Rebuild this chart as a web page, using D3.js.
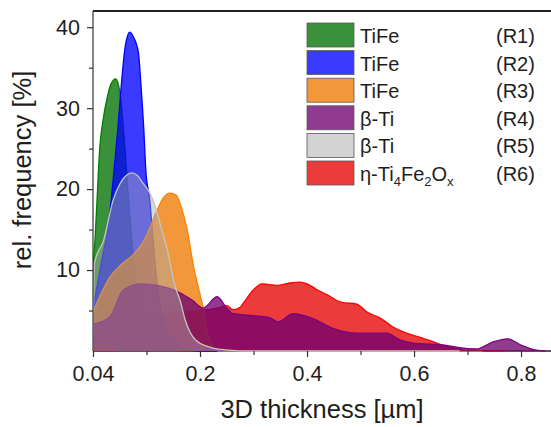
<!DOCTYPE html>
<html>
<head>
<meta charset="utf-8">
<script src="https://cdn.jsdelivr.net/npm/d3@7"></script>
<style>
	html, body { margin: 0; padding: 0; background: #fff; overflow: hidden; }
	svg { display: block; }
	text { font-family: "Liberation Sans", Arial, sans-serif; fill: #1e1e1e; }
</style>
</head>
<body>
<svg id="chart" width="551" height="427"></svg>
<script>

/* data: thickness [µm] vs rel. frequency [%] */
var regions = ["R1", "R2", "R3", "R4", "R5", "R6"];
var phases = ["TiFe", "TiFe", "TiFe", "β-Ti", "β-Ti", "η-Ti4Fe2Ox"];

var thickR1 = [0.040,0.043,0.046,0.050,0.055,0.061,0.067,0.074,0.080,0.086,0.092,0.100,0.110,0.120,0.135,0.160,0.175,0.196];
var freqR1  = [10.6,13.7,18.6,25.0,28.5,31.2,33.0,33.6,32.0,27.0,20.0,12.0,6.0,2.5,0.8,0.2,0,0];

var thickR2 = [0.040,0.046,0.055,0.062,0.070,0.077,0.083,0.088,0.095,0.101,0.108,0.112,0.116,0.119,0.125,0.130,0.135,0.142,0.150,0.165,0.180,0.196,0.247];
var freqR2  = [5.1,8.0,12.0,14.9,21.0,27.3,33.5,37.5,39.4,38.7,36.8,32.5,27.3,22.3,18.6,13.5,9.0,5.0,2.8,1.0,0.3,0,0];

var thickR3 = [0.040,0.050,0.065,0.080,0.100,0.115,0.125,0.136,0.145,0.155,0.164,0.173,0.181,0.190,0.200,0.206,0.215,0.225,0.234,0.728];
var freqR3  = [4.8,6.7,9.1,10.5,11.9,13.5,15.2,17.4,18.9,19.5,19.3,17.5,14.9,10.6,7.0,5.3,2.0,0.5,0,0];

var thickR4 = [0.040,0.065,0.085,0.110,0.136,0.155,0.170,0.188,0.206,0.232,0.250,0.262,0.293,0.331,0.346,0.374,0.411,0.448,0.493,0.549,0.573,0.597,0.660,0.685,0.716,0.747,0.775,0.801,0.829,0.845];
var freqR4  = [3.3,4.2,7.5,8.3,8.1,7.7,7.2,6.3,5.3,6.7,5.3,4.6,4.4,4.1,3.6,4.6,4.0,2.8,2.2,2.2,1.4,1.0,0.7,0.4,0.25,1.1,1.5,0.7,0.1,0];

var thickR5 = [0.040,0.042,0.056,0.070,0.080,0.090,0.098,0.106,0.115,0.123,0.130,0.143,0.151,0.163,0.170,0.178,0.193,0.222,0.247,0.300,0.685];
var freqR5  = [0,10.8,13.7,18.6,20.6,21.7,22.0,21.7,20.7,19.8,18.6,14.9,12.5,7.9,6.3,3.8,1.4,0.4,0.15,0,0];

var thickR6 = [0.040,0.070,0.080,0.100,0.130,0.160,0.200,0.232,0.250,0.262,0.275,0.282,0.299,0.316,0.344,0.368,0.387,0.400,0.418,0.439,0.465,0.493,0.512,0.536,0.560,0.586,0.610,0.634,0.653,0.681,0.703,0.770];
var freqR6  = [0,0,1.5,3.0,4.0,4.8,5.0,5.3,5.6,5.1,5.4,6.0,7.5,8.3,8.1,8.4,8.5,8.3,7.6,6.9,6.0,5.8,4.8,4.1,3.0,2.2,1.7,1.2,0.7,0.25,0,0];

var xTicks = [0.04, 0.2, 0.4, 0.6, 0.8];
var xMinorTicks = [0.12, 0.3, 0.5, 0.7];
var yTicks = [10, 20, 30, 40];
var yMinorTicks = [5, 15, 25, 35];
/* end data */

var width = 551,
	height = 427,
	margin = { top: 11, right: 0, bottom: 76, left: 93 },
	innerWidth = width - margin.left - margin.right,
	innerHeight = height - margin.top - margin.bottom;

var fills = { R1: "#006e00", R2: "#0000ff", R3: "#f07800", R4: "#6e006e", R5: "#a8a8a8", R6: "#e60000" };
var strokes = { R1: "#008000", R2: "#0000ff", R3: "#ff8000", R4: "#800080", R5: "#c4c4c4", R6: "#ff0000" };
var opac = { R1: 0.77, R2: 0.77, R3: 0.77, R4: 0.77, R5: 0.45, R6: 0.77 };
var drawOrder = ["R6", "R1", "R2", "R3", "R4", "R5"];

var series = {
	R1: d3.zip(thickR1, freqR1),
	R2: d3.zip(thickR2, freqR2),
	R3: d3.zip(thickR3, freqR3),
	R4: d3.zip(thickR4, freqR4),
	R5: d3.zip(thickR5, freqR5),
	R6: d3.zip(thickR6, freqR6)
};

var svg = d3.select("#chart");
var g = svg.append("g")
	.attr("transform", "translate(" + margin.left + "," + margin.top + ")");

/* scales - the first axis segment (0.04 .. 0.2) is compressed like in the original */
var xScale = d3.scaleLinear()
	.domain([0.04, 0.2, 0.856])
	.range([0, 107, innerWidth]);

var yScale = d3.scaleLinear()
	.domain([0, 42])
	.range([innerHeight, 0]);
/* end scales */

g.append("clipPath").attr("id", "clip")
	.append("rect").attr("width", innerWidth).attr("height", innerHeight + 2).attr("y", -1);

/* baseline */
g.append("line")
	.attr("x1", 0).attr("x2", innerWidth)
	.attr("y1", innerHeight).attr("y2", innerHeight)
	.attr("stroke", "#222").attr("stroke-width", 1.4);

/* areas */
var area = d3.area()
	.x(function(d) { return xScale(d[0]); })
	.y0(yScale(0))
	.y1(function(d) { return yScale(d[1]); })
	.curve(d3.curveMonotoneX);

var line = d3.line()
	.x(function(d) { return xScale(d[0]); })
	.y(function(d) { return yScale(d[1]); })
	.curve(d3.curveMonotoneX);

var areas = g.append("g").attr("clip-path", "url(#clip)");

drawOrder.forEach(function(id) {
	areas.append("path")
		.datum(series[id])
		.attr("d", area)
		.attr("fill", fills[id])
		.attr("fill-opacity", opac[id]);
	areas.append("path")
		.datum(series[id])
		.attr("d", line)
		.attr("fill", "none")
		.attr("stroke", strokes[id])
		.attr("stroke-width", 1.3);
});
/* end areas */

/* axes */
var fmt = function(d) { return d === 0.04 ? "0.04" : d3.format(".1f")(d); };

g.append("g")
	.attr("transform", "translate(0," + innerHeight + ")")
	.call(d3.axisBottom(xScale).tickValues(xTicks).tickSize(6).tickPadding(9).tickFormat(fmt));
g.append("g")
	.attr("transform", "translate(0," + innerHeight + ")")
	.call(d3.axisBottom(xScale).tickValues(xMinorTicks).tickSize(4).tickFormat(""));

g.append("g")
	.call(d3.axisLeft(yScale).tickValues(yTicks).tickSize(6).tickPadding(7));
g.append("g")
	.call(d3.axisLeft(yScale).tickValues(yMinorTicks).tickSize(4).tickFormat(""));

g.selectAll(".domain").remove();
g.selectAll(".tick line").attr("stroke", "#333").attr("stroke-width", 1.2);
g.selectAll(".tick text")
	.style("font-size", "21.5px")
	.style("font-family", "'Liberation Sans', Arial, sans-serif")
	.attr("fill", "#1e1e1e");

/* frame: left axis + top border */
g.append("line")
	.attr("x1", 0).attr("x2", 0).attr("y1", 0).attr("y2", innerHeight)
	.attr("stroke", "#333").attr("stroke-width", 1.2);
g.append("line")
	.attr("x1", 0).attr("x2", innerWidth).attr("y1", 0).attr("y2", 0)
	.attr("stroke", "#222").attr("stroke-width", 1.8);

/* axis legends */
svg.append("text")
	.attr("x", 322).attr("y", 418)
	.attr("text-anchor", "middle")
	.style("font-size", "25.5px")
	.text("3D thickness [µm]");

svg.append("text")
	.attr("transform", "translate(31,170) rotate(-90)")
	.attr("text-anchor", "middle")
	.style("font-size", "25.5px")
	.text("rel. frequency [%]");
/* end axes */

/* colour legend */
var legend = svg.append("g").attr("transform", "translate(307,23)");
var rowH = 27.6;

regions.forEach(function(id, i) {
	var row = legend.append("g").attr("transform", "translate(0," + (i * rowH) + ")");
	row.append("rect")
		.attr("width", 47).attr("height", 24)
		.attr("fill", fills[id]).attr("fill-opacity", id === "R5" ? 0.5 : opac[id])
		.attr("stroke", "#5a5a5a").attr("stroke-width", 0.8);

	var label = row.append("text")
		.attr("x", 53).attr("y", 20)
		.style("font-size", "20px");

	if (id === "R6") {
		label.append("tspan").text("η-Ti");
		label.append("tspan").text("4").attr("dy", 5).style("font-size", "13px");
		label.append("tspan").text("Fe").attr("dy", -5);
		label.append("tspan").text("2").attr("dy", 5).style("font-size", "13px");
		label.append("tspan").text("O").attr("dy", -5);
		label.append("tspan").text("x").attr("dy", 5).style("font-size", "13px");
	} else {
		label.text(phases[i]);
	}

	row.append("text")
		.attr("x", 189).attr("y", 20)
		.style("font-size", "20px")
		.text("(" + id + ")");
});
/* end colour legend */

</script>
</body>
</html>
